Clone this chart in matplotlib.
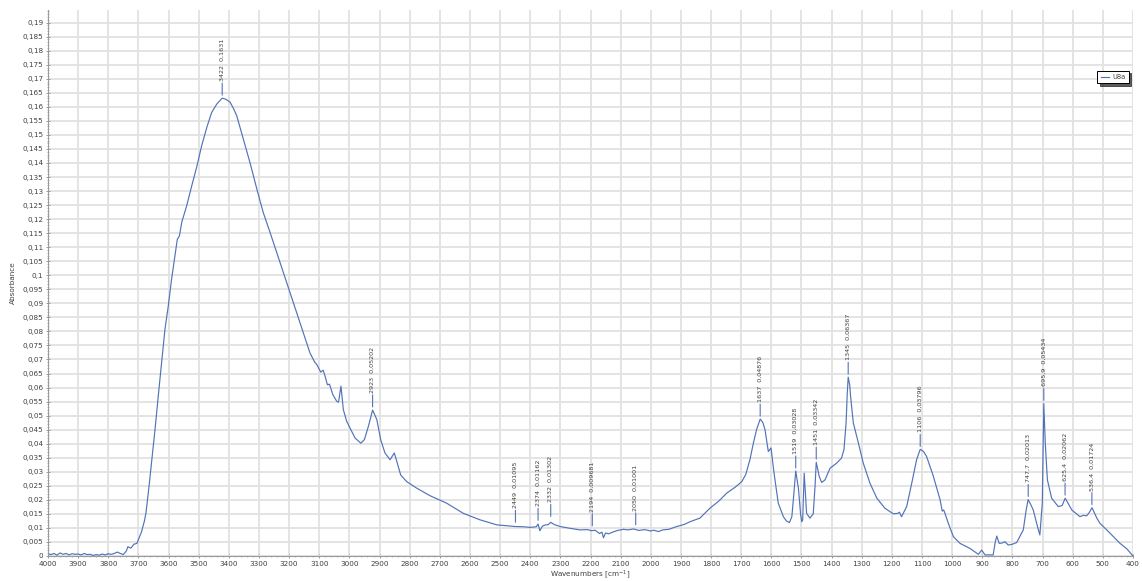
import matplotlib
matplotlib.use("Agg")
import matplotlib.pyplot as plt
from matplotlib.ticker import MultipleLocator, FuncFormatter

# ---- data ----
wavenumber = [4000, 3990, 3980, 3970, 3960, 3950, 3940, 3930, 3920, 3910, 3900, 3890, 3880, 3870, 3860,
              3850, 3840, 3830, 3820, 3810, 3800, 3790, 3780, 3770, 3760, 3750, 3740, 3735, 3725, 3715,
              3705, 3700, 3690, 3680, 3675, 3665, 3652, 3645, 3631, 3620, 3612, 3601, 3590, 3580, 3571,
              3564, 3556, 3540, 3523, 3507, 3496, 3490, 3473, 3457, 3440, 3422, 3410, 3396, 3385, 3374,
              3352, 3330, 3307, 3286, 3263, 3241, 3219, 3197, 3175, 3153, 3131, 3115, 3108, 3095, 3087,
              3080, 3073, 3066, 3055, 3042, 3036, 3028, 3020, 3009, 2998, 2981, 2962, 2950, 2937, 2923,
              2909, 2896, 2882, 2865, 2851, 2841, 2830, 2810, 2777, 2733, 2677, 2622, 2567, 2511, 2449,
              2420, 2401, 2380, 2374, 2368, 2360, 2352, 2340, 2332, 2320, 2301, 2270, 2235, 2210, 2196,
              2185, 2170, 2162, 2157, 2150, 2140, 2124, 2110, 2091, 2075, 2060, 2052, 2040, 2020, 2000,
              1990, 1975, 1960, 1940, 1914, 1890, 1870, 1837, 1804, 1775, 1748, 1720, 1698, 1685, 1671,
              1660, 1649, 1637, 1628, 1621, 1610, 1601, 1591, 1577, 1560, 1550, 1540, 1532, 1527, 1519,
              1510, 1503, 1499, 1496, 1491, 1485, 1483, 1472, 1461, 1455, 1451, 1441, 1433, 1422, 1405,
              1383, 1367, 1359, 1352, 1348, 1345, 1340, 1337, 1328, 1311, 1295, 1273, 1250, 1223, 1195,
              1180, 1175, 1168, 1151, 1134, 1118, 1106, 1095, 1085, 1063, 1040, 1033, 1028, 1024, 1013,
              996, 974, 941, 913, 902, 891, 864, 857, 852, 844, 835, 825, 814, 800, 786, 764, 755, 748,
              740, 731, 714, 709, 701, 696, 691, 684, 670, 648, 635, 625, 614, 603, 576, 565, 554, 545,
              536, 520, 510, 476, 443, 420, 400]
absorbance = [0.0008, 0.0005, 0.0009, 0.0003, 0.0011, 0.0006, 0.0009, 0.0004, 0.0008, 0.0006, 0.0007, 0.0004,
              0.0009, 0.0005, 0.0006, 0.0002, 0.0005, 0.0003, 0.0007, 0.0004, 0.0008, 0.0006, 0.0009, 0.0014,
              0.0009, 0.0005, 0.0018, 0.0033, 0.0028, 0.0042, 0.0045, 0.0058, 0.0085, 0.0125, 0.0153, 0.0246,
              0.038, 0.045, 0.0604, 0.072, 0.0807, 0.089, 0.0986, 0.106, 0.1128, 0.114, 0.119, 0.1247, 0.1319,
              0.1384, 0.1435, 0.1462, 0.1527, 0.158, 0.161, 0.1631, 0.1627, 0.1617, 0.1595, 0.1569, 0.1486,
              0.1402, 0.1307, 0.1224, 0.1152, 0.1081, 0.101, 0.0938, 0.0867, 0.0795, 0.0724, 0.069, 0.0682,
              0.0655, 0.0662, 0.0638, 0.061, 0.0612, 0.0575, 0.0551, 0.0548, 0.0605, 0.0521, 0.048, 0.0456,
              0.042, 0.0402, 0.0415, 0.0462, 0.0520, 0.0486, 0.0414, 0.0367, 0.0343, 0.0367, 0.0331, 0.0289,
              0.0265, 0.0242, 0.0215, 0.0188, 0.0152, 0.0129, 0.0111, 0.0105, 0.0104, 0.0102, 0.0104, 0.0114,
              0.009, 0.0106, 0.011, 0.0112, 0.0120, 0.0112, 0.0105, 0.0099, 0.0093, 0.0094, 0.0090, 0.0092,
              0.0080, 0.0085, 0.0065, 0.0082, 0.0079, 0.0086, 0.0091, 0.0095, 0.0093, 0.0096, 0.0095, 0.0091,
              0.0094, 0.0089, 0.0092, 0.0087, 0.0093, 0.0095, 0.0105, 0.0112, 0.0122, 0.0135, 0.017, 0.0195,
              0.0224, 0.0245, 0.0265, 0.029, 0.0343, 0.040, 0.045, 0.0488, 0.0475, 0.045, 0.0372, 0.0385,
              0.0295, 0.0188, 0.014, 0.0125, 0.0119, 0.014, 0.020, 0.0303, 0.024, 0.015, 0.0122, 0.0128,
              0.0295, 0.019, 0.0152, 0.0135, 0.0150, 0.0248, 0.0334, 0.0283, 0.0262, 0.0271, 0.0313, 0.0331,
              0.0349, 0.0379, 0.0474, 0.0581, 0.0637, 0.061, 0.0569, 0.0474, 0.0402, 0.0331, 0.026, 0.0206,
              0.017, 0.015, 0.0152, 0.0156, 0.014, 0.0176, 0.026, 0.0343, 0.038, 0.0372, 0.0355, 0.0286, 0.02,
              0.016, 0.0164, 0.0152, 0.0117, 0.0069, 0.0045, 0.0027, 0.0006, 0.0021, 0.0004, 0.0004, 0.005,
              0.0071, 0.0045, 0.0046, 0.0051, 0.0039, 0.0042, 0.0048, 0.0093, 0.016, 0.0201, 0.0185, 0.0164,
              0.0093, 0.0075, 0.0188, 0.0543, 0.040, 0.0271, 0.0206, 0.0176, 0.018, 0.0206, 0.0185, 0.0164,
              0.014, 0.0145, 0.0143, 0.0155, 0.0172, 0.0135, 0.0117, 0.0081, 0.0045, 0.0025, 0.0]

peak_wn = [3422, 2923, 2449, 2374, 2332, 2194, 2050, 1637, 1519, 1451, 1345, 1106, 747.7, 695.9, 625.4, 536.4]
peak_abs = [0.1631, 0.05202, 0.01095, 0.01162, 0.01302, 0.009681, 0.01001, 0.04876, 0.03028, 0.03342,
            0.06367, 0.03796, 0.02013, 0.05434, 0.02062, 0.01724]
peak_labels = ["3422  0,1631", "2923  0,05202", "2449  0,01095", "2374  0,01162", "2332  0,01302",
               "2194  0,009681", "2050  0,01001", "1637  0,04876", "1519  0,03028", "1451  0,03342",
               "1345  0,06367", "1106  0,03796", "747,7  0,02013", "695,9  0,05434", "625,4  0,02062",
               "536,4  0,01724"]
series_name = "U8a"

line_color = "#5273b8"
text_color = "#404040"

fig = plt.figure(figsize=(11.42, 5.81), dpi=100)
ax = fig.add_axes([48 / 1142, 25 / 581, 1085 / 1142, 546 / 581])

ax.plot(wavenumber, absorbance, color=line_color, lw=0.85, label=series_name)
ax.set_xlim(4000, 400)
ax.set_ylim(0, 0.1945)

for w, a, lab in zip(peak_wn, peak_abs, peak_labels):
    ax.annotate("", xy=(w, a), xytext=(0, 15), textcoords="offset pixels",
                arrowprops=dict(arrowstyle="-", color=line_color, lw=0.8, shrinkA=0, shrinkB=2.2))
    ax.annotate(lab, xy=(w, a), xytext=(0, 17), textcoords="offset pixels", rotation=90,
                ha="center", va="bottom", fontsize=4.6, color=text_color)

ax.xaxis.set_major_locator(MultipleLocator(100))
ax.xaxis.set_minor_locator(MultipleLocator(20))
ax.yaxis.set_major_locator(MultipleLocator(0.005))
ax.yaxis.set_minor_locator(MultipleLocator(0.001))
ax.yaxis.set_major_formatter(FuncFormatter(lambda v, p: ("%g" % round(v, 3)).replace(".", ",")))
ax.xaxis.set_major_formatter(FuncFormatter(lambda v, p: "%d" % round(v)))

ax.grid(True, which="major", color="#e2e2e2", lw=1.3)
ax.set_axisbelow(True)
for s in ["top", "right"]:
    ax.spines[s].set_visible(False)
for s in ["left", "bottom"]:
    ax.spines[s].set_color("#9a9a9a")
    ax.spines[s].set_linewidth(0.8)
ax.tick_params(which="major", labelsize=5.2, labelcolor=text_color, color="#8a8a8a", length=3, width=0.6,
               direction="inout", pad=2)
ax.tick_params(which="minor", color="#9a9a9a", length=2, width=0.5, direction="inout")

ax.set_xlabel("Wavenumbers [cm$^{-1}$]", fontsize=5.2, color=text_color, labelpad=1)
ax.set_ylabel("Absorbance", fontsize=5.2, color=text_color, labelpad=5)

leg = ax.legend(loc="upper right", bbox_to_anchor=(0.999, 0.895), fontsize=4.8, frameon=True,
                fancybox=False, shadow={"color": "#333333", "alpha": 0.8}, handlelength=1.2,
                borderpad=0.5, handletextpad=0.5)
leg.get_frame().set_edgecolor("black")
leg.get_frame().set_linewidth(0.7)
for t in leg.get_texts():
    t.set_color(text_color)

fig.savefig("out.png", dpi=100)
